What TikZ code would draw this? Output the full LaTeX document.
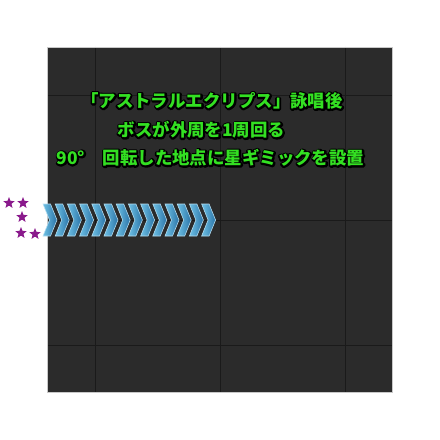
\documentclass[tikz,border=0pt]{standalone}
\usepackage{fontspec}
\usepackage{xcolor}
\usetikzlibrary{shapes.geometric}
\newfontfamily\jpfont{Noto Sans CJK JP Black}
\definecolor{floor}{HTML}{2B2B2B}
\definecolor{gridln}{HTML}{1A1A1A}
\definecolor{rim}{HTML}{C8C8C8}
\definecolor{txtgreen}{HTML}{33E022}
\definecolor{chevdark}{HTML}{2A74A8}
\definecolor{chevlight}{HTML}{6FC0E4}
\definecolor{starpurple}{HTML}{8A1A8C}
% green text with a black rim: stroked pass first, filled pass on top
\newcommand{\gtxt}[1]{\rlap{\special{pdf:literal direct 1 Tr 2.4 w 0 G 1 j}#1\special{pdf:literal direct 0 Tr}}\textcolor{txtgreen}{#1}}

\begin{document}
\begin{tikzpicture}[x=0.025cm, y=-0.025cm,
	chev/.style={left color=chevlight, right color=chevdark, draw=chevlight!50!white, line width=0.4pt},
	gstar/.style={star, star points=5, star point ratio=2.3, fill=starpurple, inner sep=0pt, minimum size=0.3cm},
	caption/.style={font=\jpfont\fontsize{12.4}{14}\selectfont, inner sep=0pt}]
	\useasboundingbox (0,0) rectangle (440,440);
	\fill[white] (0,0) rectangle (440,440);
	% arena
	\fill[floor] (47,47) rectangle (392,392);
	\foreach \g in {95,220,345}{
		\draw[gridln, line width=0.6pt] (\g,47) -- (\g,392);
		\draw[gridln, line width=0.6pt] (47,\g) -- (392,\g);
	}
	\draw[rim, line width=0.6pt] (47,47) rectangle (392,392);
	% captions
	\node[caption] (l1) at (212,101) {\gtxt{「アストラルエクリプス」詠唱後}};
	\node[caption] (l2) at (201.5,130) {\gtxt{ボスが外周を1周回る}};
	\node[caption] (l3) at (210.5,158) {\gtxt{90°　回転した地点に星ギミックを設置}};
	% arrow of chevrons
	\foreach \i in {0,...,13}{
		\pgfmathsetmacro{\cx}{43+12.2*\i}
		\path[chev] (\cx,204) -- (\cx+7.5,204) -- (\cx+14,220) -- (\cx+7.5,236)
			-- (\cx,236) -- (\cx+6.5,220) -- cycle;
	}
	% stars
	\node[gstar] (s1) at (9,203) {};
	\node[gstar] (s2) at (23,203) {};
	\node[gstar] (s3) at (22,217) {};
	\node[gstar] (s4) at (21,233) {};
	\node[gstar] (s5) at (35,234) {};
\end{tikzpicture}
\end{document}
